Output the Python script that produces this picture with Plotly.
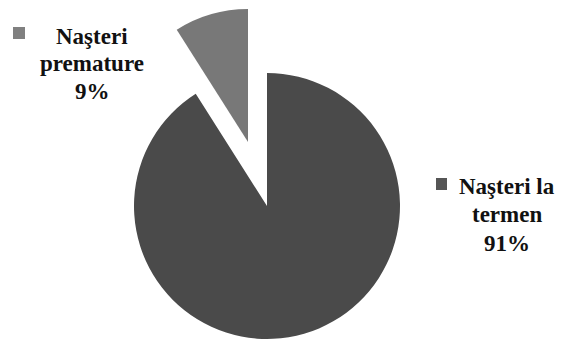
import plotly.graph_objects as go

W, H = 561, 341

labels = ["Naşteri la termen", "Naşteri premature"]
values = [91, 9]
colors = ["#4a4a4a", "#787878"]
label_lines = {"Naşteri la termen": ["Naşteri la", "termen", "91%"],
               "Naşteri premature": ["Naşteri", "premature", "9%"]}

def px_domain(cx, cy, r):
    return dict(x=[(cx - r) / W, (cx + r) / W],
                y=[(H - (cy + r)) / H, (H - (cy - r)) / H])

R = 133
DIR = "counterclockwise"
fig = go.Figure()
# main (term) slice
fig.add_trace(go.Pie(
    labels=labels, values=values, sort=False, direction=DIR, rotation=0,
    marker=dict(colors=[colors[0], "rgba(0,0,0,0)"], line=dict(width=0)),
    textinfo="none", hoverinfo="label+percent", showlegend=False,
    domain=px_domain(267, 206, R),
))
# exploded (premature) slice
fig.add_trace(go.Pie(
    labels=labels, values=values, sort=False, direction=DIR, rotation=0,
    marker=dict(colors=["rgba(0,0,0,0)", colors[1]], line=dict(width=0)),
    textinfo="none", hoverinfo="label+percent", showlegend=False,
    domain=px_domain(248, 142, R),
))

font = dict(family="Times New Roman, Liberation Serif, DejaVu Serif Condensed, DejaVu Serif",
            size=23, color="#111111")

def add_label(lines, cx, y0, spacing, sq, sqcolor):
    for i, t in enumerate(lines):
        fig.add_annotation(text="<b>%s</b>" % t, x=cx / W, y=(H - (y0 + i * spacing)) / H,
                           xref="paper", yref="paper", xanchor="center", yanchor="middle",
                           showarrow=False, font=font)
    x0, y0s, x1, y1 = sq
    fig.add_shape(type="rect", xref="paper", yref="paper",
                  x0=x0 / W, x1=x1 / W, y0=(H - y1) / H, y1=(H - y0s) / H,
                  fillcolor=sqcolor, line=dict(width=0))

add_label(label_lines["Naşteri premature"], 92, 36, 27.5, (13, 27, 25, 39), "#808080")
add_label(label_lines["Naşteri la termen"], 507, 186, 28.5, (436, 178, 447, 190), "#555555")

fig.update_layout(width=W, height=H, margin=dict(l=0, r=0, t=0, b=0),
                  paper_bgcolor="white", plot_bgcolor="white")
fig.write_html("out.html")
